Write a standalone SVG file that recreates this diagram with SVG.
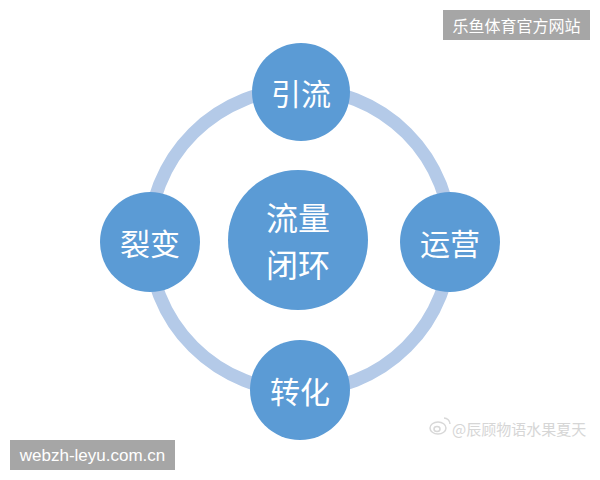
<svg xmlns="http://www.w3.org/2000/svg" width="600" height="480" viewBox="0 0 600 480">
<style>
.node{fill:#5b9bd5;}
.lbl{font-family:"Noto Sans CJK SC","Microsoft YaHei",sans-serif;fill:#ffffff;font-size:30px;text-anchor:middle;dominant-baseline:central;}
.ctr{font-size:32px;}
.wm{fill:#a6a6a6;}
.wmt{font-family:"Noto Sans CJK SC",sans-serif;fill:#ffffff;font-size:16px;text-anchor:middle;dominant-baseline:central;}
.wmu{font-family:"Liberation Sans",Arial,sans-serif;fill:#ffffff;font-size:17px;text-anchor:middle;dominant-baseline:central;}
</style>
<rect width="600" height="480" fill="#ffffff"/>
<g id="connectors">
<circle cx="300" cy="240" r="151" fill="none" stroke="#b4cae8" stroke-width="13"/>
</g>
<g id="center">
<circle class="node" cx="298" cy="240" r="70"/>
<text class="lbl ctr" x="298" y="216">流量</text>
<text class="lbl ctr" x="298" y="263">闭环</text>
</g>
<g id="top">
<circle class="node" cx="301" cy="92" r="49"/>
<text class="lbl" x="301" y="92">引流</text>
</g>
<g id="left">
<circle class="node" cx="150" cy="242" r="50"/>
<text class="lbl" x="150" y="242">裂变</text>
</g>
<g id="right">
<circle class="node" cx="450" cy="242" r="50"/>
<text class="lbl" x="450" y="242">运营</text>
</g>
<g id="bottom">
<circle class="node" cx="300" cy="390" r="50"/>
<text class="lbl" x="300" y="390">转化</text>
</g>
<g id="watermarks">
<rect class="wm" x="443" y="10" width="147" height="30"/>
<text class="wmt" x="516.5" y="25">乐鱼体育官方网站</text>
<rect class="wm" x="10" y="440" width="165" height="30"/>
<text class="wmu" x="92.5" y="455">webzh-leyu.com.cn</text>
<g fill="none" stroke="#d8d8d8" stroke-width="1.5">
<ellipse cx="438" cy="428" rx="8" ry="6"/>
<ellipse cx="437" cy="429" rx="3" ry="2.5"/>
<path d="M444 418 a6 6 0 0 1 6 6"/>
</g>
<text x="452" y="428" font-family="Noto Sans CJK SC,sans-serif" font-size="15" fill="#d6d6d6" dominant-baseline="central">@辰顾物语水果夏天</text>
</g>
</svg>
